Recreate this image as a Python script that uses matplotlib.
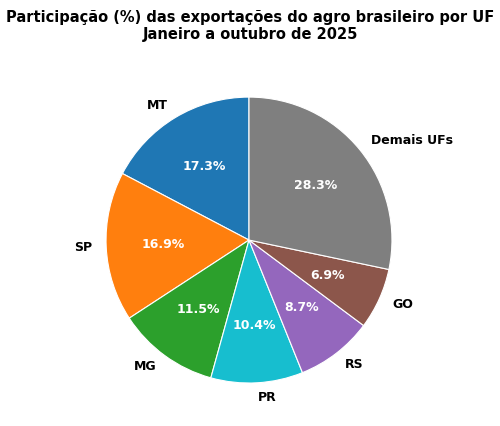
import matplotlib.pyplot as plt

labels = ["MT", "SP", "MG", "PR", "RS", "GO", "Demais UFs"]
shares = [17.3, 16.9, 11.5, 10.4, 8.7, 6.9, 28.3]
colors = ["#1f77b4", "#ff7f0e", "#2ca02c", "#17becf", "#9467bd", "#8c564b", "#7f7f7f"]

fig = plt.figure(figsize=(5, 4.26), dpi=100)
ax = fig.add_axes([0.1405, 0.017, 0.715, 0.839])

wedges, texts, autotexts = ax.pie(
    shares, labels=labels, colors=colors, autopct="%1.1f%%",
    startangle=90, counterclock=True,
    wedgeprops=dict(edgecolor="white", linewidth=0.8),
    textprops=dict(fontsize=9, fontweight="bold"),
)
for t in autotexts:
    t.set_color("white")
ax.set_aspect("equal")

fig.suptitle("Participação (%) das exportações do agro brasileiro por UF\nJaneiro a outubro de 2025",
             fontsize=10.5, fontweight="bold", y=0.977)

fig.savefig("out.png", dpi=100)
